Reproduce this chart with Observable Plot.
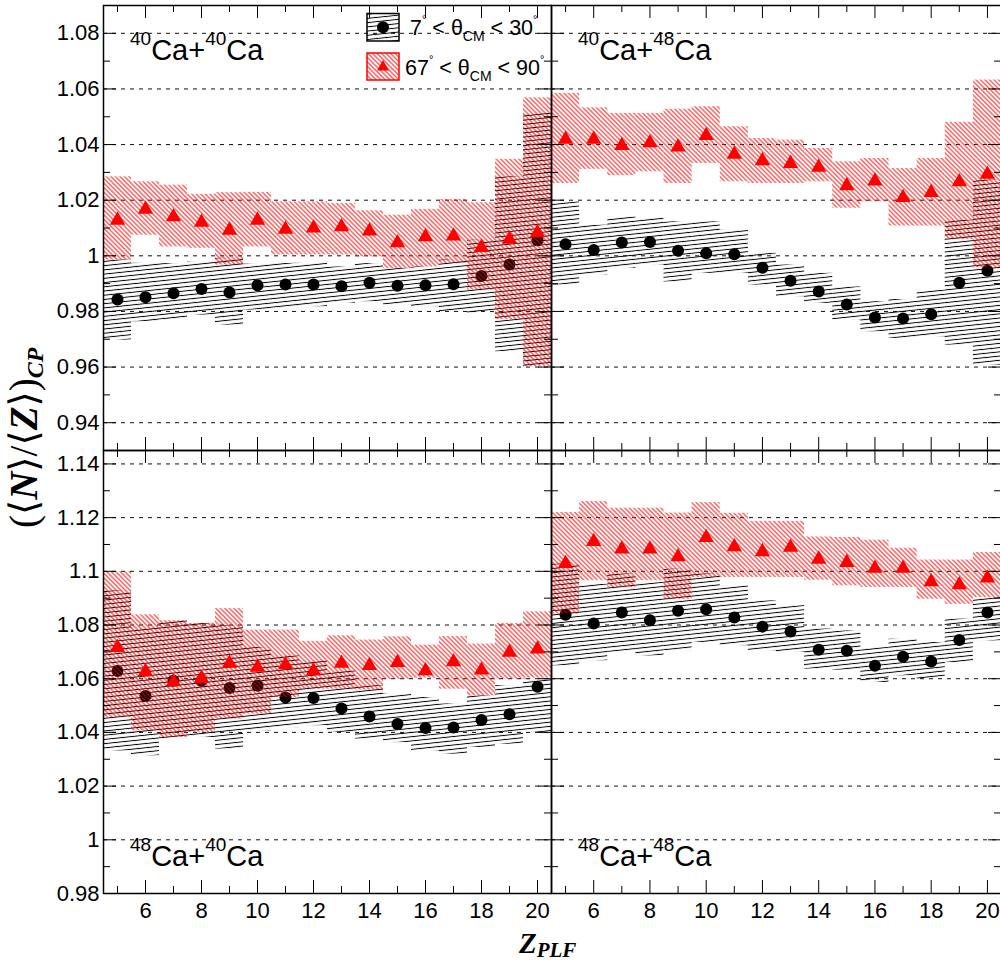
<!DOCTYPE html>
<html>
<head>
<meta charset="utf-8">
<script src="https://cdn.jsdelivr.net/npm/d3@7"></script>
<script src="https://cdn.jsdelivr.net/npm/@observablehq/plot@0.6"></script>
<style>
html, body { margin: 0; padding: 0; width: 1000px; height: 965px; overflow: hidden; background: white; }
#stage { position: relative; width: 1000px; height: 965px; }
.pnl { position: absolute; }
</style>
</head>
<body>
<div id="stage">
<svg width="0" height="0" style="position:absolute;left:0;top:0">
  <defs>
    <pattern id="hatchBlack" patternUnits="userSpaceOnUse" width="10" height="4.2" patternTransform="rotate(-6)">
      <line x1="-1" y1="2.1" x2="11" y2="2.1" stroke="black" stroke-width="1"></line>
    </pattern>
    <pattern id="hatchRed" patternUnits="userSpaceOnUse" width="6" height="3.2" patternTransform="rotate(45)">
      <line x1="-1" y1="1.6" x2="7" y2="1.6" stroke="#ff0000" stroke-width="0.9"></line>
    </pattern>
  </defs>
</svg>
<div id="tl" class="pnl" style="left:0;top:0"></div>
<div id="tr" class="pnl" style="left:550px;top:0"></div>
<div id="bl" class="pnl" style="left:0;top:440px"></div>
<div id="br" class="pnl" style="left:550px;top:440px"></div>
<svg id="overlay" width="1000" height="965" style="position:absolute;left:0;top:0;pointer-events:none"></svg>
</div>
<script>
// ---------- data ----------
const Z = [5, 6, 7, 8, 9, 10, 11, 12, 13, 14, 15, 16, 17, 18, 19, 20];

// 40Ca+40Ca
const ca4040Black   = [0.9843, 0.9851, 0.9865, 0.9881, 0.9868, 0.9894, 0.9897, 0.9897, 0.9891, 0.9903, 0.9892, 0.9894, 0.9898, 0.9927, 0.9969, 1.0056];
const ca4040BlackLo = [0.9697, 0.9763, 0.9769, 0.9787, 0.9751, 0.9805, 0.9811, 0.9817, 0.9829, 0.9835, 0.9823, 0.9817, 0.9799, 0.9793, 0.9655, 0.9601];
const ca4040BlackHi = [0.9985, 0.9973, 0.9972, 0.9978, 0.9991, 0.9970, 0.9973, 0.9973, 0.9960, 0.9972, 0.9955, 0.9960, 0.9985, 1.0056, 1.0284, 1.0512];
const ca4040Red     = [1.0128, 1.0167, 1.0140, 1.0120, 1.0092, 1.0128, 1.0095, 1.0100, 1.0104, 1.0089, 1.0047, 1.0068, 1.0071, 1.0030, 1.0059, 1.0083];
const ca4040RedLo   = [0.9985, 1.0074, 1.0032, 1.0027, 0.9967, 1.0032, 1.0003, 1.0003, 1.0003, 0.9996, 0.9955, 0.9960, 0.9973, 0.9877, 0.9771, 0.9601];
const ca4040RedHi   = [1.0284, 1.0266, 1.0254, 1.0221, 1.0227, 1.0228, 1.0194, 1.0194, 1.0188, 1.0162, 1.0146, 1.0167, 1.0203, 1.0191, 1.0347, 1.0568];

// 40Ca+48Ca
const ca4048Black   = [1.0042, 1.0021, 1.0048, 1.0050, 1.0018, 1.0009, 1.0006, 0.9957, 0.9910, 0.9872, 0.9825, 0.9778, 0.9775, 0.9790, 0.9903, 0.9946];
const ca4048BlackLo = [0.9895, 0.9931, 0.9955, 0.9967, 0.9906, 0.9937, 0.9937, 0.9895, 0.9853, 0.9829, 0.9769, 0.9727, 0.9703, 0.9709, 0.9679, 0.9607];
const ca4048BlackHi = [1.0194, 1.0110, 1.0140, 1.0135, 1.0122, 1.0122, 1.0092, 1.0009, 0.9967, 0.9937, 0.9888, 0.9835, 0.9843, 0.9877, 1.0128, 1.0272];
const ca4048Red     = [1.0419, 1.0419, 1.0396, 1.0406, 1.0391, 1.0432, 1.0365, 1.0342, 1.0332, 1.0318, 1.0252, 1.0269, 1.0209, 1.0227, 1.0266, 1.0293];
const ca4048RedLo   = [1.0260, 1.0311, 1.0288, 1.0302, 1.0260, 1.0332, 1.0266, 1.0260, 1.0260, 1.0266, 1.0171, 1.0194, 1.0107, 1.0107, 1.0059, 0.9957];
const ca4048RedHi   = [1.0584, 1.0532, 1.0512, 1.0512, 1.0527, 1.0536, 1.0464, 1.0422, 1.0416, 1.0386, 1.0338, 1.0350, 1.0314, 1.0350, 1.0480, 1.0632];

// 48Ca+40Ca
const ca4840Black   = [1.0629, 1.0536, 1.0592, 1.0592, 1.0565, 1.0574, 1.0530, 1.0528, 1.0489, 1.0459, 1.0431, 1.0416, 1.0418, 1.0446, 1.0468, 1.0570];
const ca4840BlackLo = [1.0331, 1.0313, 1.0375, 1.0381, 1.0338, 1.0406, 1.0418, 1.0425, 1.0400, 1.0375, 1.0362, 1.0331, 1.0319, 1.0344, 1.0356, 1.0400];
const ca4840BlackHi = [1.0927, 1.0791, 1.0816, 1.0806, 1.0797, 1.0716, 1.0685, 1.0667, 1.0629, 1.0574, 1.0543, 1.0530, 1.0506, 1.0536, 1.0574, 1.0598];
const ca4840Red     = [1.0716, 1.0626, 1.0588, 1.0601, 1.0657, 1.0642, 1.0652, 1.0629, 1.0657, 1.0649, 1.0660, 1.0629, 1.0663, 1.0632, 1.0698, 1.0710];
const ca4840RedLo   = [1.0456, 1.0406, 1.0381, 1.0400, 1.0450, 1.0468, 1.0530, 1.0561, 1.0561, 1.0558, 1.0598, 1.0602, 1.0561, 1.0536, 1.0598, 1.0602];
const ca4840RedHi   = [1.0998, 1.0838, 1.0816, 1.0806, 1.0861, 1.0781, 1.0781, 1.0739, 1.0760, 1.0744, 1.0756, 1.0725, 1.0757, 1.0729, 1.0806, 1.0849];

// 48Ca+48Ca
const ca4848Black   = [1.0838, 1.0806, 1.0847, 1.0818, 1.0853, 1.0859, 1.0828, 1.0794, 1.0776, 1.0708, 1.0704, 1.0648, 1.0682, 1.0664, 1.0744, 1.0847];
const ca4848BlackLo = [1.0648, 1.0667, 1.0698, 1.0685, 1.0704, 1.0735, 1.0723, 1.0704, 1.0698, 1.0636, 1.0632, 1.0586, 1.0611, 1.0598, 1.0660, 1.0741];
const ca4848BlackHi = [1.1027, 1.0952, 1.0990, 1.0958, 1.1008, 1.0990, 1.0946, 1.0890, 1.0872, 1.0785, 1.0778, 1.0716, 1.0747, 1.0735, 1.0822, 1.0902];
const ca4848Red     = [1.1029, 1.1111, 1.1083, 1.1083, 1.1054, 1.1126, 1.1091, 1.1073, 1.1089, 1.1045, 1.1033, 1.1011, 1.1011, 1.0961, 1.0950, 1.0975];
const ca4848RedLo   = [1.0841, 1.0965, 1.0940, 1.0965, 1.0896, 1.0977, 1.0977, 1.0977, 1.0977, 1.0967, 1.0946, 1.0940, 1.0940, 1.0896, 1.0877, 1.0902];
const ca4848RedHi   = [1.1219, 1.1260, 1.1235, 1.1235, 1.1217, 1.1256, 1.1216, 1.1186, 1.1186, 1.1128, 1.1126, 1.1116, 1.1086, 1.1042, 1.1042, 1.1070];

// ticks
const xMajor = [6, 8, 10, 12, 14, 16, 18, 20];
const xMinor = [5, 7, 9, 11, 13, 15, 17, 19];
const yMajorTop = [0.94, 0.96, 0.98, 1.00, 1.02, 1.04, 1.06, 1.08];
const yMinorTop = [0.93, 0.95, 0.97, 0.99, 1.01, 1.03, 1.05, 1.07, 1.09];
const yMajorBottom = [0.98, 1.00, 1.02, 1.04, 1.06, 1.08, 1.10, 1.12, 1.14];
const yMinorBottom = [0.99, 1.01, 1.03, 1.05, 1.07, 1.09, 1.11, 1.13];
const xDomain = [4.5, 20.5];
const yDomainTop = [0.93, 1.09];
const yDomainBottom = [0.98, 1.145];

// ---------- drawing ----------
const fmt = d => d3.format("~g")(+d.toFixed(2));

function panel(cfg) {
  const rows = Z.map((z, i) => ({
    z, b: cfg.black[i], bLo: cfg.blackLo[i], bHi: cfg.blackHi[i],
    r: cfg.red[i], rLo: cfg.redLo[i], rHi: cfg.redHi[i]
  }));
  const W = cfg.width - cfg.ml - cfg.mr;
  const H = cfg.height - cfg.mt - cfg.mb;
  const marks = [
    Plot.ruleY(cfg.yMajor, {stroke: "#111", strokeWidth: 1, strokeDasharray: "4,5"}),
    Plot.rect(rows, {x1: d => d.z - 0.5, x2: d => d.z + 0.5, y1: "bLo", y2: "bHi", fill: "url(#hatchBlack)"}),
    Plot.dot(rows, {x: "z", y: "b", r: 6, fill: "black"}),
    Plot.rect(rows, {x1: d => d.z - 0.5, x2: d => d.z + 0.5, y1: "rLo", y2: "rHi", fill: "url(#hatchRed)"}),
    Plot.dot(rows, {x: "z", y: "r", symbol: "triangle", r: 5.7, fill: "#ff0000"}),
    Plot.ruleY(cfg.yMajor, {insetRight: W - 13, stroke: "black"}),
    Plot.ruleY(cfg.yMajor, {insetLeft: W - 13, stroke: "black"}),
    Plot.ruleY(cfg.yMinor, {insetRight: W - 7, stroke: "black"}),
    Plot.ruleY(cfg.yMinor, {insetLeft: W - 7, stroke: "black"}),
    Plot.ruleX(xMajor, {insetTop: H - 13, stroke: "black"}),
    Plot.ruleX(xMajor, {insetBottom: H - 13, stroke: "black"}),
    Plot.ruleX(xMinor, {insetTop: H - 7, stroke: "black"}),
    Plot.ruleX(xMinor, {insetBottom: H - 7, stroke: "black"}),
    Plot.frame({stroke: "black", strokeWidth: 1.5})
  ];
  if (cfg.yLabels) marks.push(Plot.axisY(cfg.yMajor, {anchor: "left", tickSize: 0, tickPadding: 4, tickFormat: fmt, fontSize: 22, label: null}));
  if (cfg.xLabels) marks.push(Plot.axisX(xMajor, {anchor: "bottom", tickSize: 0, tickPadding: 9, tickFormat: d => String(d), fontSize: 22, label: null}));
  const svg = Plot.plot({
    width: cfg.width, height: cfg.height,
    marginLeft: cfg.ml, marginRight: cfg.mr, marginTop: cfg.mt, marginBottom: cfg.mb,
    x: {domain: xDomain, axis: null},
    y: {domain: cfg.yDomain, axis: null},
    style: {fontFamily: "'Liberation Sans', Arial, Helvetica, sans-serif", fontSize: "22px", color: "black", background: "transparent", maxWidth: "none", overflow: "visible"},
    marks
  });
  document.getElementById(cfg.id).appendChild(svg);
}

const topCommon = {height: 451, mt: 5, mb: 1, yDomain: yDomainTop, yMajor: yMajorTop, yMinor: yMinorTop};
const botCommon = {height: 525, mt: 10, mb: 72, yDomain: yDomainBottom, yMajor: yMajorBottom, yMinor: yMinorBottom};
const leftCommon = {width: 552, ml: 103, mr: 1, yLabels: true};
const rightCommon = {width: 452, ml: 1, mr: 1, yLabels: false};

panel({id: "tl", ...topCommon, ...leftCommon, xLabels: false,
  black: ca4040Black, blackLo: ca4040BlackLo, blackHi: ca4040BlackHi, red: ca4040Red, redLo: ca4040RedLo, redHi: ca4040RedHi});
panel({id: "tr", ...topCommon, ...rightCommon, xLabels: false,
  black: ca4048Black, blackLo: ca4048BlackLo, blackHi: ca4048BlackHi, red: ca4048Red, redLo: ca4048RedLo, redHi: ca4048RedHi});
panel({id: "bl", ...botCommon, ...leftCommon, xLabels: true,
  black: ca4840Black, blackLo: ca4840BlackLo, blackHi: ca4840BlackHi, red: ca4840Red, redLo: ca4840RedLo, redHi: ca4840RedHi});
panel({id: "br", ...botCommon, ...rightCommon, xLabels: true,
  black: ca4848Black, blackLo: ca4848BlackLo, blackHi: ca4848BlackHi, red: ca4848Red, redLo: ca4848RedLo, redHi: ca4848RedHi});

// ---------- overlay texts & legend ----------
const ov = d3.select("#overlay");
const sans = "'Liberation Sans', Arial, Helvetica, sans-serif";
const serif = "'Liberation Serif', 'Times New Roman', 'DejaVu Serif', serif";

function reactionLabel(x, y, a1, a2) {
  const t = ov.append("text").attr("x", x).attr("y", y).attr("font-family", sans).attr("font-size", 29).attr("fill", "black");
  t.append("tspan").attr("font-size", 19).attr("dy", -15).text(a1);
  t.append("tspan").attr("dy", 15).text("Ca+");
  t.append("tspan").attr("font-size", 19).attr("dy", -15).text(a2);
  t.append("tspan").attr("dy", 15).text("Ca");
}
reactionLabel(130, 60, "40", "40");
reactionLabel(578, 60, "40", "48");
reactionLabel(130, 866, "48", "40");
reactionLabel(578, 866, "48", "48");

// legend
const lg = ov.append("g");
lg.append("rect").attr("x", 367).attr("y", 13.5).attr("width", 32).attr("height", 27.5)
  .attr("fill", "url(#hatchBlack)").attr("stroke", "black").attr("stroke-width", 1.5);
lg.append("circle").attr("cx", 383).attr("cy", 27.3).attr("r", 6).attr("fill", "black");
lg.append("rect").attr("x", 367).attr("y", 53).attr("width", 32).attr("height", 27)
  .attr("fill", "url(#hatchRed)").attr("stroke", "#ff0000").attr("stroke-width", 1.5);
lg.append("path").attr("transform", "translate(383,67)").attr("d", d3.symbol(d3.symbolTriangle2, Math.PI * 5.7 * 5.7)()).attr("fill", "#ff0000");

function legendText(x, y, lo, hi) {
  const t = lg.append("text").attr("x", x).attr("y", y).attr("font-family", sans).attr("font-size", 21.5).attr("fill", "black");
  t.append("tspan").text(lo);
  t.append("tspan").attr("font-size", 11).attr("dy", -12).text("°");
  t.append("tspan").attr("dy", 12).text(" < θ");
  t.append("tspan").attr("font-size", 14).attr("dy", 6).text("CM");
  t.append("tspan").attr("dy", -6).text(" < " + hi);
  t.append("tspan").attr("font-size", 11).attr("dy", -12).text("°");
}
legendText(410, 34.5, "7", "30");
legendText(405, 75, "67", "90");

// axis titles
const yt = ov.append("text").attr("transform", "translate(37,528) rotate(-90)")
  .attr("font-family", serif).attr("font-size", 39).attr("font-weight", "bold").attr("font-style", "italic").attr("fill", "black");
yt.append("tspan").attr("font-style", "normal").attr("font-weight", "normal").text("(⟨");
yt.append("tspan").text("N");
yt.append("tspan").attr("font-style", "normal").attr("font-weight", "normal").text("⟩/⟨");
yt.append("tspan").text("Z");
yt.append("tspan").attr("font-style", "normal").attr("font-weight", "normal").text("⟩)");
yt.append("tspan").attr("font-size", 24).attr("dy", 6).text("CP");

const xt = ov.append("text").attr("x", 519).attr("y", 953)
  .attr("font-family", serif).attr("font-weight", "bold").attr("font-style", "italic").attr("font-size", 29).attr("fill", "black");
xt.append("tspan").text("Z");
xt.append("tspan").attr("font-size", 21).attr("dy", 4).text("PLF");
</script>
</body>
</html>
